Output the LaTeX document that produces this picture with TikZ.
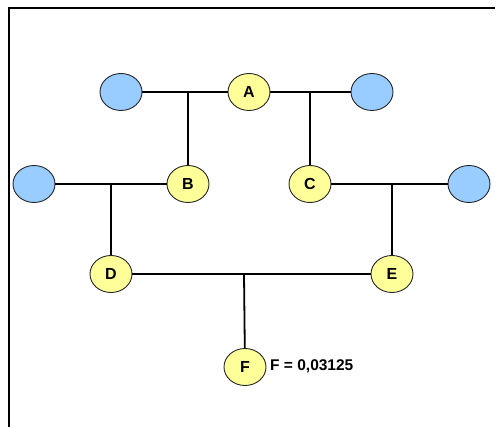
\documentclass[tikz,border=0pt]{standalone}
\usepackage{fontspec}
\setmainfont{Liberation Sans}
\usetikzlibrary{shapes.geometric}
\definecolor{nodeyellow}{HTML}{FFFF99}
\definecolor{nodeblue}{HTML}{99CCFF}
\begin{document}
\begin{tikzpicture}[x=1pt,y=-1pt,
  person/.style={ellipse, draw=black!85, line width=0.9pt, minimum width=42pt, minimum height=37pt, inner sep=0pt, font=\bfseries\fontsize{16}{18}\selectfont},
  anc/.style={person, fill=nodeblue},
  ind/.style={person, fill=nodeyellow},
  link/.style={draw=black, line width=1.8pt},
  frame/.style={draw=black, line width=1.8pt}]
\useasboundingbox (0,0) rectangle (497,427);
% frame
\coordinate (fa) at (9,427);
\coordinate (fb) at (9,8);
\coordinate (fc) at (495,8);
\draw[frame] (fa) -- (fb) -- (fc);
% nodes
\node[anc] (p1) at (121,92) {};
\node[ind] (A) at (249,92) {A};
\node[anc] (p2) at (372,92) {};
\node[anc] (p3) at (34,184) {};
\node[ind] (B) at (188,184) {B};
\node[ind] (C) at (310,184) {C};
\node[anc] (p4) at (469,184) {};
\node[ind] (D) at (111,274) {D};
\node[ind] (E) at (392,274) {E};
\node[ind] (F) at (245,367) {F};
\node[anchor=west, font=\bfseries\fontsize{15.5}{18}\selectfont, inner sep=0pt] (lbl) at (270,366) {F = 0,03125};
% connectors
\coordinate (j1) at (188,92);
\coordinate (j2) at (310,92);
\coordinate (j3) at (111,184);
\coordinate (j4) at (392,184);
\coordinate (j5) at (244,274);
\draw[link] (p1) -- (A) -- (p2);
\draw[link] (j1) -- (B);
\draw[link] (j2) -- (C);
\draw[link] (p3) -- (B);
\draw[link] (C) -- (p4);
\draw[link] (j3) -- (D);
\draw[link] (j4) -- (E);
\draw[link] (D) -- (E);
\draw[link] (j5) -- (F);
\end{tikzpicture}
\end{document}
